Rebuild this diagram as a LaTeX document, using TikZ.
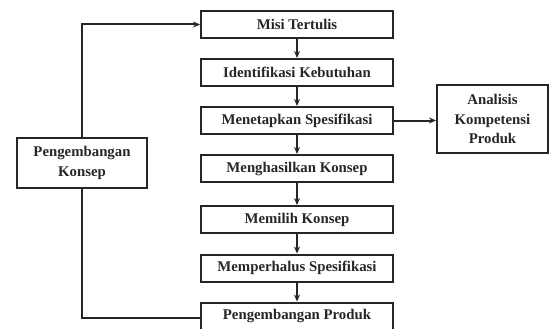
\documentclass[tikz,border=0pt]{standalone}
\usepackage{fontspec}
\setmainfont{Liberation Serif}
\usetikzlibrary{arrows.meta}
\begin{document}
\begin{tikzpicture}[x=1pt,y=-1pt,
  box/.style={draw=black!85,line width=2pt,inner sep=0pt,align=center,
    font=\fontsize{14.8}{19.5}\selectfont\bfseries,text=black!85},
  mainbox/.style={box,minimum width=192pt,minimum height=27pt},
  conn/.style={draw=black!85,line width=2pt},
  arr/.style={conn,-{Stealth[length=7pt,width=6pt]}}]
\useasboundingbox (0,0) rectangle (549,329);
\node[mainbox] (misi) at (297,24.5) {Misi Tertulis};
\node[mainbox] (ident) at (297,72.5) {Identifikasi Kebutuhan};
\node[mainbox] (tetap) at (297,120.5) {Menetapkan Spesifikasi};
\node[mainbox] (hasil) at (297,168.5) {Menghasilkan Konsep};
\node[mainbox] (pilih) at (297,219.5) {Memilih Konsep};
\node[mainbox] (halus) at (297,268) {Memperhalus Spesifikasi};
\node[mainbox] (produk) at (297,316) {Pengembangan Produk};
\node[box,minimum width=130pt,minimum height=50pt] (konsep) at (82,163) {Pengembangan\\Konsep};
\node[box,minimum width=111pt,minimum height=68pt] (analisis) at (492.5,119) {Analisis\\Kompetensi\\Produk};
\draw[arr] (misi) -- (ident);
\draw[arr] (ident) -- (tetap);
\draw[arr] (tetap) -- (hasil);
\draw[arr] (hasil) -- (pilih);
\draw[arr] (pilih) -- (halus);
\draw[arr] (halus) -- (produk);
\draw[arr] (tetap.east) -- (tetap.east -| analisis.west);
\draw[arr] (konsep.north) |- (misi.west);
\draw[conn] (konsep.south) |- ([yshift=-2pt]produk.west);
\end{tikzpicture}
\end{document}
